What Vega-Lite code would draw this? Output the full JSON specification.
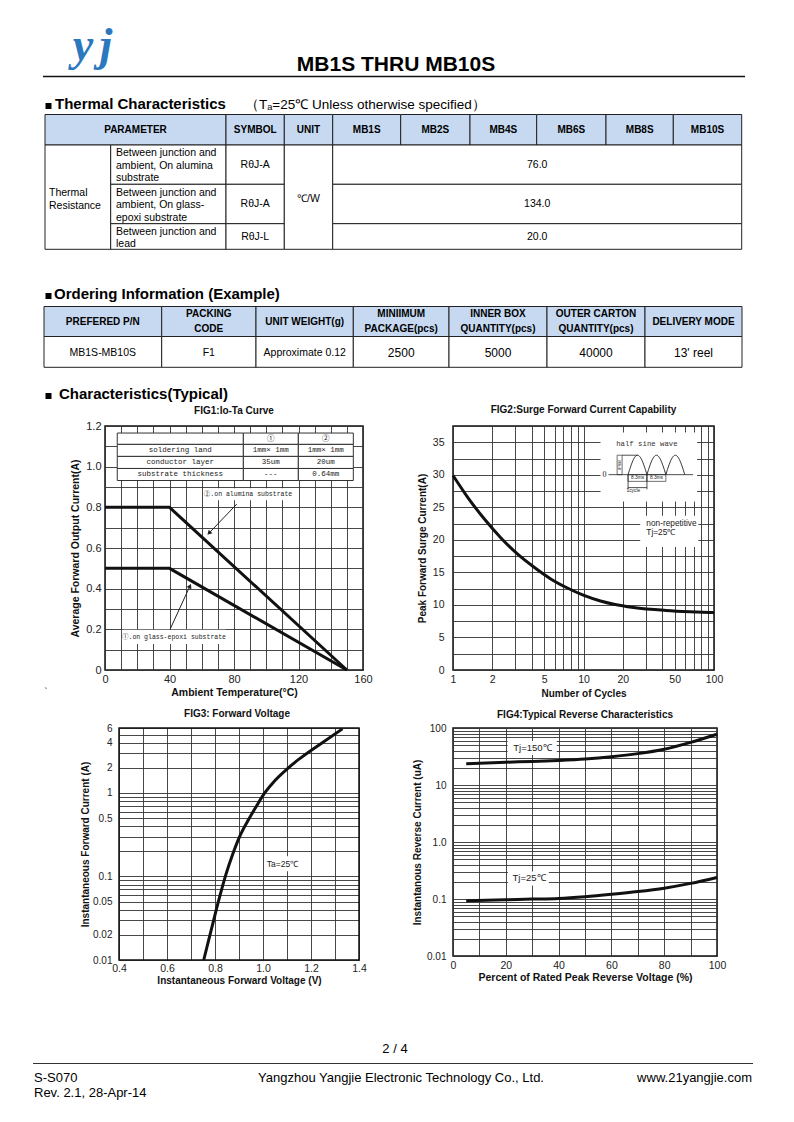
{
"$schema": "https://vega.github.io/schema/vega-lite/v6.json",
"padding": 0,
"background": "white",
"columns": 3,
"spacing": {"row": 58, "column": 90},
"align": "each",
"bounds": "flush",
"center": false,
"config": {
  "view": {"stroke": null},
  "font": "Liberation Sans",
  "text": {"font": "Liberation Sans", "color": "#111"},
  "axis": {"grid": true, "gridColor": "#333", "gridWidth": 0.9, "domain": false, "ticks": false, "labelColor": "#222", "labelFont": "Liberation Sans", "labelFontSize": 10.5, "titleFont": "Liberation Sans", "titleFontWeight": "bold", "titleFontSize": 10.5, "titleColor": "#111", "labelFlush": false, "labelOverlap": false, "labelBound": false},
  "title": {"font": "Liberation Sans", "fontWeight": "bold", "fontSize": 10, "color": "#111", "anchor": "middle", "baseline": "bottom"}
},
"datasets": {
  "hdr_logo": [{"x": 83, "y": 57, "t": "y"}, {"x": 106, "y": 57, "t": "j"}],
  "hdr_title": [{"x": 396, "y": 68, "t": "MB1S THRU MB10S"}],
  "hdr_rule": [{"x": 43, "x2": 745, "y": 73.5}],
  "hdr_heads": [{"x": 55, "y": 106, "t": "Thermal Characteristics"}, {"x": 54, "y": 296, "t": "Ordering Information (Example)"}, {"x": 59, "y": 396, "t": "Characteristics(Typical)"}],
  "hdr_squares": [{"x": 48.5, "y": 103}, {"x": 48.5, "y": 293}, {"x": 48.5, "y": 393}],
  "hdr_sub": [{"x": 245, "y": 106, "t": "（Tₐ=25℃ Unless otherwise specified）"}],
  "hdr_stray": [{"x": 46, "y": 690, "t": "`"}],
  "tbl_head_cells": [
    {"x": 45, "x2": 226, "y": 111.5, "y2": 142}, {"x": 226, "x2": 284.3, "y": 111.5, "y2": 142}, {"x": 284.3, "x2": 332.7, "y": 111.5, "y2": 142}, {"x": 332.7, "x2": 400.7, "y": 111.5, "y2": 142}, {"x": 400.7, "x2": 470, "y": 111.5, "y2": 142}, {"x": 470, "x2": 536.7, "y": 111.5, "y2": 142}, {"x": 536.7, "x2": 606, "y": 111.5, "y2": 142}, {"x": 606, "x2": 673.3, "y": 111.5, "y2": 142}, {"x": 673.3, "x2": 741.7, "y": 111.5, "y2": 142},
    {"x": 44, "x2": 161.7, "y": 303.5, "y2": 333.5}, {"x": 161.7, "x2": 256, "y": 303.5, "y2": 333.5}, {"x": 256, "x2": 353.3, "y": 303.5, "y2": 333.5}, {"x": 353.3, "x2": 449, "y": 303.5, "y2": 333.5}, {"x": 449, "x2": 547, "y": 303.5, "y2": 333.5}, {"x": 547, "x2": 645, "y": 303.5, "y2": 333.5}, {"x": 645, "x2": 742, "y": 303.5, "y2": 333.5}
  ],
  "tbl_body_cells": [
    {"x": 45, "x2": 110.7, "y": 142, "y2": 246.3}, {"x": 110.7, "x2": 226, "y": 142, "y2": 181.3}, {"x": 110.7, "x2": 226, "y": 181.3, "y2": 220.7}, {"x": 110.7, "x2": 226, "y": 220.7, "y2": 246.3}, {"x": 226, "x2": 284.3, "y": 142, "y2": 181.3}, {"x": 226, "x2": 284.3, "y": 181.3, "y2": 220.7}, {"x": 226, "x2": 284.3, "y": 220.7, "y2": 246.3}, {"x": 284.3, "x2": 332.7, "y": 142, "y2": 246.3}, {"x": 332.7, "x2": 741.7, "y": 142, "y2": 181.3}, {"x": 332.7, "x2": 741.7, "y": 181.3, "y2": 220.7}, {"x": 332.7, "x2": 741.7, "y": 220.7, "y2": 246.3},
    {"x": 44, "x2": 161.7, "y": 333.5, "y2": 364.3}, {"x": 161.7, "x2": 256, "y": 333.5, "y2": 364.3}, {"x": 256, "x2": 353.3, "y": 333.5, "y2": 364.3}, {"x": 353.3, "x2": 449, "y": 333.5, "y2": 364.3}, {"x": 449, "x2": 547, "y": 333.5, "y2": 364.3}, {"x": 547, "x2": 645, "y": 333.5, "y2": 364.3}, {"x": 645, "x2": 742, "y": 333.5, "y2": 364.3}
  ],
  "tbl_head_text": [
    {"x": 135.5, "y": 127, "t": "PARAMETER"}, {"x": 255.2, "y": 127, "t": "SYMBOL"}, {"x": 308.5, "y": 127, "t": "UNIT"}, {"x": 366.7, "y": 127, "t": "MB1S"}, {"x": 435.3, "y": 127, "t": "MB2S"}, {"x": 503.3, "y": 127, "t": "MB4S"}, {"x": 571.3, "y": 127, "t": "MB6S"}, {"x": 639.7, "y": 127, "t": "MB8S"}, {"x": 707.5, "y": 127, "t": "MB10S"},
    {"x": 102.8, "y": 319, "t": "PREFERED P/N"}, {"x": 208.8, "y": 310.5, "t": "PACKING\nCODE"}, {"x": 304.7, "y": 319, "t": "UNIT WEIGHT(g)"}, {"x": 401.2, "y": 310.5, "t": "MINIIMUM\nPACKAGE(pcs)"}, {"x": 498, "y": 310.5, "t": "INNER BOX\nQUANTITY(pcs)"}, {"x": 596, "y": 310.5, "t": "OUTER CARTON\nQUANTITY(pcs)"}, {"x": 693.5, "y": 319, "t": "DELIVERY MODE"}
  ],
  "tbl_body_text": [
    {"x": 255.2, "y": 162, "t": "RθJ-A"}, {"x": 255.2, "y": 201, "t": "RθJ-A"}, {"x": 255.2, "y": 234, "t": "RθJ-L"}, {"x": 308.5, "y": 195.5, "t": "℃/W"}, {"x": 537.2, "y": 162, "t": "76.0"}, {"x": 537.2, "y": 201, "t": "134.0"}, {"x": 537.2, "y": 234, "t": "20.0"},
    {"x": 102.8, "y": 349.5, "t": "MB1S-MB10S"}, {"x": 208.8, "y": 349.5, "t": "F1"}, {"x": 304.7, "y": 349.5, "t": "Approximate 0.12"}
  ],
  "tbl_left_text": [
    {"x": 49, "y": 190, "t": "Thermal\nResistance"}, {"x": 116, "y": 150.3, "t": "Between junction and\nambient, On alumina\nsubstrate"}, {"x": 116, "y": 189.7, "t": "Between junction and\nambient, On glass-\nepoxi substrate"}, {"x": 116, "y": 228.7, "t": "Between junction and\nlead"}
  ],
  "tbl_big_text": [{"x": 401.2, "y": 349.5, "t": "2500"}, {"x": 498, "y": 349.5, "t": "5000"}, {"x": 596, "y": 349.5, "t": "40000"}, {"x": 693.5, "y": 349.5, "t": "13' reel"}],
  "fig1_curves": [
    {"substrate": "alumina", "ta": 0, "io": 0.8}, {"substrate": "alumina", "ta": 40, "io": 0.8}, {"substrate": "alumina", "ta": 150, "io": 0},
    {"substrate": "glass-epoxi", "ta": 0, "io": 0.5}, {"substrate": "glass-epoxi", "ta": 40, "io": 0.5}, {"substrate": "glass-epoxi", "ta": 150, "io": 0}
  ],
  "fig1_table": [
    {"ta": 7.6, "ta2": 85.8, "io": 1.1654, "io2": 1.1096}, {"ta": 85.8, "ta2": 119.9, "io": 1.1654, "io2": 1.1096}, {"ta": 119.9, "ta2": 154, "io": 1.1654, "io2": 1.1096},
    {"ta": 7.6, "ta2": 85.8, "io": 1.1096, "io2": 1.0504}, {"ta": 85.8, "ta2": 119.9, "io": 1.1096, "io2": 1.0504}, {"ta": 119.9, "ta2": 154, "io": 1.1096, "io2": 1.0504},
    {"ta": 7.6, "ta2": 85.8, "io": 1.0504, "io2": 0.9911}, {"ta": 85.8, "ta2": 119.9, "io": 1.0504, "io2": 0.9911}, {"ta": 119.9, "ta2": 154, "io": 1.0504, "io2": 0.9911},
    {"ta": 7.6, "ta2": 85.8, "io": 0.9911, "io2": 0.9319}, {"ta": 85.8, "ta2": 119.9, "io": 0.9911, "io2": 0.9319}, {"ta": 119.9, "ta2": 154, "io": 0.9911, "io2": 0.9319}
  ],
  "fig1_table_text": [
    {"ta": 102.85, "io": 1.1375, "t": "①"}, {"ta": 136.95, "io": 1.1375, "t": "②"},
    {"ta": 46.7, "io": 1.08, "t": "soldering land"}, {"ta": 102.85, "io": 1.08, "t": "1mm× 1mm"}, {"ta": 136.95, "io": 1.08, "t": "1mm× 1mm"},
    {"ta": 46.7, "io": 1.0208, "t": "conductor layer"}, {"ta": 102.85, "io": 1.0208, "t": "35um"}, {"ta": 136.95, "io": 1.0208, "t": "20um"},
    {"ta": 46.7, "io": 0.9615, "t": "substrate thickness"}, {"ta": 102.85, "io": 0.9615, "t": "---"}, {"ta": 136.95, "io": 0.9615, "t": "0.64mm"}
  ],
  "fig1_boxes": [{"ta": 60.8, "ta2": 116.6, "io": 0.894, "io2": 0.835}, {"ta": 10.5, "ta2": 75, "io": 0.1975, "io2": 0.128}],
  "fig1_notes": [{"ta": 88.7, "io": 0.864, "t": "②.on alumina substrate"}, {"ta": 42.8, "io": 0.163, "t": "①.on glass-epoxi substrate"}],
  "fig1_arrows": [{"ta": 81.7, "io": 0.816, "ta2": 64.5, "io2": 0.673}, {"ta": 40.3, "io": 0.199, "ta2": 52.7, "io2": 0.413}],
  "fig1_head_a": [{"ta": 64.5, "io": 0.673}],
  "fig1_head_b": [{"ta": 52.7, "io": 0.413}],
  "fig2_curve": [
    {"cycles": 1, "amps": 29.9}, {"cycles": 1.3, "amps": 26.5}, {"cycles": 1.74, "amps": 23.2}, {"cycles": 2.33, "amps": 20.3}, {"cycles": 3.13, "amps": 17.8}, {"cycles": 4.31, "amps": 15.6}, {"cycles": 5.61, "amps": 14.0}, {"cycles": 7.53, "amps": 12.6}, {"cycles": 9.96, "amps": 11.5}, {"cycles": 13.5, "amps": 10.6}, {"cycles": 17.1, "amps": 10.1}, {"cycles": 24.2, "amps": 9.6}, {"cycles": 42.8, "amps": 9.15}, {"cycles": 65.5, "amps": 8.95}, {"cycles": 100, "amps": 8.82}
  ],
  "fig2_boxes": [{"cycles": 13.5, "cycles2": 74.1, "amps": 25.9, "amps2": 36.5}, {"cycles": 27.2, "cycles2": 75.8, "amps": 18.9, "amps2": 23.7}],
  "fig2_segs": [
    {"cycles": 15.54, "cycles2": 69.06, "amps": 30.02, "amps2": 30.02}, {"cycles": 19.76, "cycles2": 25.94, "amps": 33.01, "amps2": 33.01}, {"cycles": 21.95, "cycles2": 30.64, "amps": 28.03, "amps2": 28.03}, {"cycles": 21.95, "cycles2": 21.95, "amps": 30.02, "amps2": 27.77}, {"cycles": 30.64, "cycles2": 30.64, "amps": 30.02, "amps2": 27.77}
  ],
  "fig2_frames": [{"cycles": 18.1, "cycles2": 19.76, "amps": 30.02, "amps2": 33.01}, {"cycles": 21.95, "cycles2": 30.64, "amps": 28.99, "amps2": 30.02}, {"cycles": 30.64, "cycles2": 42.77, "amps": 28.99, "amps2": 30.02}],
  "fig2_humps": [
    {"hump": 1, "cycles": 21.95, "amps": 30.02}, {"hump": 1, "cycles": 23.21, "amps": 31.52}, {"hump": 1, "cycles": 24.53, "amps": 32.61}, {"hump": 1, "cycles": 25.94, "amps": 33.01}, {"hump": 1, "cycles": 27.42, "amps": 32.61}, {"hump": 1, "cycles": 28.98, "amps": 31.52}, {"hump": 1, "cycles": 30.64, "amps": 30.02},
    {"hump": 2, "cycles": 30.64, "amps": 30.02}, {"hump": 2, "cycles": 32.39, "amps": 31.52}, {"hump": 2, "cycles": 34.24, "amps": 32.61}, {"hump": 2, "cycles": 36.21, "amps": 33.01}, {"hump": 2, "cycles": 38.28, "amps": 32.61}, {"hump": 2, "cycles": 40.45, "amps": 31.52}, {"hump": 2, "cycles": 42.77, "amps": 30.02},
    {"hump": 3, "cycles": 42.77, "amps": 30.02}, {"hump": 3, "cycles": 45.21, "amps": 31.52}, {"hump": 3, "cycles": 47.8, "amps": 32.61}, {"hump": 3, "cycles": 50.55, "amps": 33.01}, {"hump": 3, "cycles": 53.43, "amps": 32.61}, {"hump": 3, "cycles": 56.47, "amps": 31.52}, {"hump": 3, "cycles": 59.7, "amps": 30.02}
  ],
  "fig2_mono": [{"cycles": 30.6, "amps": 34.75, "t": "half sine wave"}],
  "fig2_zero": [{"cycles": 14.48, "amps": 30.02, "t": "0"}],
  "fig2_ifsm": [{"cycles": 18.91, "amps": 31.51, "t": "IFSM"}],
  "fig2_tiny": [{"cycles": 25.94, "amps": 29.51, "t": "8.3ms"}, {"cycles": 36.21, "amps": 29.51, "t": "8.3ms"}, {"cycles": 24.1, "amps": 27.46, "t": "1cycle"}],
  "fig2_notes": [{"cycles": 30.3, "amps": 22.5, "t": "non-repetitive"}, {"cycles": 30.3, "amps": 21.1, "t": "Tj=25℃"}],
  "fig3_curve": [
    {"volts": 0.753, "amps": 0.01}, {"volts": 0.778, "amps": 0.0195}, {"volts": 0.8, "amps": 0.0347}, {"volts": 0.822, "amps": 0.061}, {"volts": 0.845, "amps": 0.1047}, {"volts": 0.873, "amps": 0.182}, {"volts": 0.903, "amps": 0.302}, {"volts": 0.9375, "amps": 0.468}, {"volts": 0.9725, "amps": 0.695}, {"volts": 1.007, "amps": 1.0}, {"volts": 1.05, "amps": 1.413}, {"volts": 1.1, "amps": 1.936}, {"volts": 1.15, "amps": 2.54}, {"volts": 1.2, "amps": 3.23}, {"volts": 1.25, "amps": 4.05}, {"volts": 1.331, "amps": 5.86}
  ],
  "fig3_frame": [{"volts": 0.4, "volts2": 1.4, "amps": 0.01, "amps2": 6}],
  "fig3_box": [{"volts": 1.007, "volts2": 1.16, "amps": 0.1158, "amps2": 0.175}],
  "fig3_label": [{"volts": 1.081, "amps": 0.1404, "t": "Ta=25℃"}],
  "fig4_curves": [
    {"series": "Tj=150℃", "pct": 5, "ua": 23.6}, {"series": "Tj=150℃", "pct": 20, "ua": 25.1}, {"series": "Tj=150℃", "pct": 30, "ua": 25.9}, {"series": "Tj=150℃", "pct": 40, "ua": 27.0}, {"series": "Tj=150℃", "pct": 50, "ua": 28.6}, {"series": "Tj=150℃", "pct": 60, "ua": 31.3}, {"series": "Tj=150℃", "pct": 70, "ua": 35.5}, {"series": "Tj=150℃", "pct": 80, "ua": 42.5}, {"series": "Tj=150℃", "pct": 90, "ua": 56.0}, {"series": "Tj=150℃", "pct": 100, "ua": 77.8},
    {"series": "Tj=25℃", "pct": 5, "ua": 0.093}, {"series": "Tj=25℃", "pct": 20, "ua": 0.097}, {"series": "Tj=25℃", "pct": 30, "ua": 0.0995}, {"series": "Tj=25℃", "pct": 40, "ua": 0.1025}, {"series": "Tj=25℃", "pct": 50, "ua": 0.11}, {"series": "Tj=25℃", "pct": 60, "ua": 0.121}, {"series": "Tj=25℃", "pct": 70, "ua": 0.135}, {"series": "Tj=25℃", "pct": 80, "ua": 0.155}, {"series": "Tj=25℃", "pct": 90, "ua": 0.188}, {"series": "Tj=25℃", "pct": 100, "ua": 0.239}
  ],
  "fig4_boxes": [{"pct": 20.7, "pct2": 39.3, "ua": 33.6, "ua2": 59.3}, {"pct": 20.8, "pct2": 36.3, "ua": 0.173, "ua2": 0.305}],
  "fig4_labels": [{"pct": 30.1, "ua": 44.7, "t": "Tj=150℃"}, {"pct": 28.8, "ua": 0.2296, "t": "Tj=25℃"}],
  "ftr_rule": [{"x": 33, "x2": 753, "y": 1060.5}],
  "ftr_left": [{"x": 34, "y": 1075, "t": "S-S070"}, {"x": 34, "y": 1090, "t": "Rev. 2.1, 28-Apr-14"}],
  "ftr_center": [{"x": 395, "y": 1046, "t": "2 / 4"}, {"x": 401, "y": 1075, "t": "Yangzhou Yangjie Electronic Technology Co., Ltd."}],
  "ftr_right": [{"x": 752, "y": 1075, "t": "www.21yangjie.com"}]
},
"concat": [
  {
    "width": 15, "height": 365,
    "encoding": {
      "x": {"field": "x", "type": "quantitative", "scale": {"domain": [0, 15], "nice": false, "zero": false}, "axis": null},
      "y": {"field": "y", "type": "quantitative", "scale": {"domain": [0, 365], "nice": false, "zero": false, "reverse": true}, "axis": null}
    },
    "layer": [
      {"data": {"name": "hdr_logo"}, "mark": {"type": "text", "font": "Liberation Serif", "fontStyle": "italic", "fontWeight": "bold", "fontSize": 46, "color": "#2B78BE", "baseline": "alphabetic"}, "encoding": {"text": {"field": "t"}}},
      {"data": {"name": "hdr_title"}, "mark": {"type": "text", "fontWeight": "bold", "fontSize": 21, "color": "#000", "baseline": "alphabetic"}, "encoding": {"text": {"field": "t"}}},
      {"data": {"name": "hdr_rule"}, "mark": {"type": "rule", "color": "#111", "strokeWidth": 1.5}, "encoding": {"x2": {"field": "x2"}}},
      {"data": {"name": "hdr_heads"}, "mark": {"type": "text", "fontWeight": "bold", "fontSize": 15, "color": "#000", "align": "left", "baseline": "alphabetic"}, "encoding": {"text": {"field": "t"}}},
      {"data": {"name": "hdr_squares"}, "mark": {"type": "point", "shape": "square", "filled": true, "size": 36, "color": "#000", "opacity": 1}, "encoding": {}},
      {"data": {"name": "hdr_sub"}, "mark": {"type": "text", "fontSize": 13.5, "color": "#000", "align": "left", "baseline": "alphabetic"}, "encoding": {"text": {"field": "t"}}},
      {"data": {"name": "hdr_stray"}, "mark": {"type": "text", "fontSize": 10, "color": "#333"}, "encoding": {"text": {"field": "t"}}},
      {"data": {"name": "tbl_head_cells"}, "mark": {"type": "rect", "fill": "#C6D9F1", "stroke": "#222", "strokeWidth": 1}, "encoding": {"x2": {"field": "x2"}, "y2": {"field": "y2"}}},
      {"data": {"name": "tbl_body_cells"}, "mark": {"type": "rect", "fill": "white", "stroke": "#222", "strokeWidth": 1}, "encoding": {"x2": {"field": "x2"}, "y2": {"field": "y2"}}},
      {"data": {"name": "tbl_head_text"}, "mark": {"type": "text", "fontWeight": "bold", "fontSize": 10, "color": "#000", "lineBreak": "\n", "lineHeight": 15}, "encoding": {"text": {"field": "t"}}},
      {"data": {"name": "tbl_body_text"}, "mark": {"type": "text", "fontSize": 10.5, "color": "#000"}, "encoding": {"text": {"field": "t"}}},
      {"data": {"name": "tbl_left_text"}, "mark": {"type": "text", "fontSize": 10.5, "color": "#000", "align": "left", "lineBreak": "\n", "lineHeight": 12.5}, "encoding": {"text": {"field": "t"}}},
      {"data": {"name": "tbl_big_text"}, "mark": {"type": "text", "fontSize": 12, "color": "#000"}, "encoding": {"text": {"field": "t"}}}
    ]
  },
  {"width": 1, "height": 1, "data": {"values": [{"v": 0}]}, "mark": {"type": "point", "opacity": 0}, "encoding": {}},
  {"width": 1, "height": 1, "data": {"values": [{"v": 0}]}, "mark": {"type": "point", "opacity": 0}, "encoding": {}},
  {"width": 15, "height": 1, "data": {"values": [{"v": 0}]}, "mark": {"type": "point", "opacity": 0}, "encoding": {}},
  {
    "width": 258, "height": 244,
    "view": {"stroke": "#111", "strokeWidth": 1.5},
    "title": {"text": "FIG1:Io-Ta Curve", "offset": 4.5},
    "encoding": {
      "x": {"field": "ta", "type": "quantitative", "scale": {"domain": [0, 160], "nice": false, "zero": false},
            "axis": {"title": "Ambient Temperature(°C)", "values": [0, 10, 20, 30, 40, 50, 60, 70, 80, 90, 100, 110, 120, 130, 140, 150, 160], "labelExpr": "datum.value % 40 === 0 ? datum.label : ''", "labelFontSize": 11, "labelPadding": 3, "titlePadding": 3}},
      "y": {"field": "io", "type": "quantitative", "scale": {"domain": [0, 1.2], "nice": false, "zero": false},
            "axis": {"title": "Average Forward Output Current(A)", "values": [0, 0.1, 0.2, 0.3, 0.4, 0.5, 0.6, 0.7, 0.8, 0.9, 1, 1.1, 1.2], "labelExpr": "round(datum.value * 10) % 2 === 0 ? (datum.value === 0 ? '0' : format(datum.value, '.1f')) : ''", "labelFontSize": 11, "labelPadding": 4, "titlePadding": 5}}
    },
    "layer": [
      {"data": {"name": "fig1_curves"}, "mark": {"type": "line", "color": "#111", "strokeWidth": 3}, "encoding": {"detail": {"field": "substrate"}}},
      {"data": {"name": "fig1_table"}, "mark": {"type": "rect", "fill": "white", "stroke": "#333", "strokeWidth": 1}, "encoding": {"x2": {"field": "ta2"}, "y2": {"field": "io2"}}},
      {"data": {"name": "fig1_table_text"}, "mark": {"type": "text", "font": "Liberation Mono, Noto Sans CJK SC", "fontSize": 7.5, "color": "#222"}, "encoding": {"text": {"field": "t"}}},
      {"data": {"name": "fig1_boxes"}, "mark": {"type": "rect", "fill": "white"}, "encoding": {"x2": {"field": "ta2"}, "y2": {"field": "io2"}}},
      {"data": {"name": "fig1_notes"}, "mark": {"type": "text", "font": "Liberation Mono, Noto Sans CJK SC", "fontSize": 6.5, "color": "#222"}, "encoding": {"text": {"field": "t"}}},
      {"data": {"name": "fig1_arrows"}, "mark": {"type": "rule", "color": "#222", "strokeWidth": 1}, "encoding": {"x2": {"field": "ta2"}, "y2": {"field": "io2"}}},
      {"data": {"name": "fig1_head_a"}, "mark": {"type": "point", "shape": "triangle-up", "filled": true, "size": 28, "angle": 224, "color": "#222", "opacity": 1}, "encoding": {}},
      {"data": {"name": "fig1_head_b"}, "mark": {"type": "point", "shape": "triangle-up", "filled": true, "size": 28, "angle": 25, "color": "#222", "opacity": 1}, "encoding": {}}
    ]
  },
  {
    "width": 261, "height": 244,
    "view": {"stroke": "#111", "strokeWidth": 1.5},
    "title": {"text": "FIG2:Surge Forward Current Capability", "offset": 6.5},
    "encoding": {
      "x": {"field": "cycles", "type": "quantitative", "scale": {"type": "log", "domain": [1, 100], "nice": false},
            "axis": {"title": "Number of Cycles", "values": [1, 2, 3, 4, 5, 6, 7, 8, 9, 10, 20, 30, 40, 50, 60, 70, 80, 90, 100], "labelExpr": "indexof([1, 2, 5, 10, 20, 50, 100], datum.value) >= 0 ? format(datum.value, '~g') : ''", "labelPadding": 4, "titlePadding": 4, "titleFontSize": 10}},
      "y": {"field": "amps", "type": "quantitative", "scale": {"domain": [0, 37.5], "nice": false, "zero": false},
            "axis": {"title": "Peak Forward Surge Current(A)", "values": [0, 2.5, 5, 7.5, 10, 12.5, 15, 17.5, 20, 22.5, 25, 27.5, 30, 32.5, 35, 37.5], "labelExpr": "datum.value % 5 === 0 ? format(datum.value, '~g') : ''", "labelPadding": 9, "titlePadding": 5, "titleFontSize": 10}}
    },
    "layer": [
      {"data": {"name": "fig2_curve"}, "mark": {"type": "line", "color": "#111", "strokeWidth": 3, "interpolate": "monotone"}, "encoding": {}},
      {"data": {"name": "fig2_boxes"}, "mark": {"type": "rect", "fill": "white"}, "encoding": {"x2": {"field": "cycles2"}, "y2": {"field": "amps2"}}},
      {"data": {"name": "fig2_frames"}, "mark": {"type": "rect", "fill": "white", "stroke": "#333", "strokeWidth": 0.7}, "encoding": {"x2": {"field": "cycles2"}, "y2": {"field": "amps2"}}},
      {"data": {"name": "fig2_segs"}, "mark": {"type": "rule", "color": "#222", "strokeWidth": 0.8}, "encoding": {"x2": {"field": "cycles2"}, "y2": {"field": "amps2"}}},
      {"data": {"name": "fig2_humps"}, "mark": {"type": "line", "color": "#222", "strokeWidth": 0.9, "interpolate": "monotone"}, "encoding": {"detail": {"field": "hump"}}},
      {"data": {"name": "fig2_mono"}, "mark": {"type": "text", "font": "Liberation Mono", "fontSize": 7.3, "color": "#333"}, "encoding": {"text": {"field": "t"}}},
      {"data": {"name": "fig2_zero"}, "mark": {"type": "text", "font": "Liberation Serif", "fontSize": 8, "color": "#222"}, "encoding": {"text": {"field": "t"}}},
      {"data": {"name": "fig2_ifsm"}, "mark": {"type": "text", "fontSize": 4, "angle": 270, "color": "#222"}, "encoding": {"text": {"field": "t"}}},
      {"data": {"name": "fig2_tiny"}, "mark": {"type": "text", "fontSize": 4.8, "color": "#222"}, "encoding": {"text": {"field": "t"}}},
      {"data": {"name": "fig2_notes"}, "mark": {"type": "text", "fontSize": 8.3, "color": "#222", "align": "left"}, "encoding": {"text": {"field": "t"}}}
    ]
  },
  {"width": 15, "height": 1, "data": {"values": [{"v": 0}]}, "mark": {"type": "point", "opacity": 0}, "encoding": {}},
  {
    "width": 254, "height": 232,
    "title": {"text": "FIG3: Forward Voltage", "offset": 3.5, "dx": 5},
    "encoding": {
      "x": {"field": "volts", "type": "quantitative", "scale": {"domain": [0.4, 1.4], "range": [14, 254], "nice": false, "zero": false},
            "axis": {"title": "Instantaneous Forward Voltage (V)", "values": [0.4, 0.5, 0.6, 0.7, 0.8, 0.9, 1, 1.1, 1.2, 1.3, 1.4], "labelExpr": "round(datum.value * 10) % 2 === 0 ? format(datum.value, '.1f') : ''", "labelPadding": 3, "titlePadding": 2, "titleFontSize": 10}},
      "y": {"field": "amps", "type": "quantitative", "scale": {"type": "log", "domain": [0.01, 6], "nice": false},
            "axis": {"title": "Instantaneous Forward Current (A)", "offset": -14, "values": [0.01, 0.02, 0.03, 0.04, 0.05, 0.06, 0.07, 0.08, 0.09, 0.1, 0.2, 0.3, 0.4, 0.5, 0.6, 0.7, 0.8, 0.9, 1, 2, 3, 4, 5, 6], "labelExpr": "indexof([0.01, 0.02, 0.05, 0.1, 0.5, 1, 2, 4, 6], datum.value) >= 0 ? format(datum.value, '~g') : ''", "labelFontSize": 10, "labelPadding": 7, "titlePadding": 2, "titleFontSize": 10}}
    },
    "layer": [
      {"data": {"name": "fig3_frame"}, "mark": {"type": "rect", "fill": null, "stroke": "#111", "strokeWidth": 1.5}, "encoding": {"x2": {"field": "volts2"}, "y2": {"field": "amps2"}}},
      {"data": {"name": "fig3_curve"}, "mark": {"type": "line", "color": "#111", "strokeWidth": 3, "interpolate": "monotone"}, "encoding": {}},
      {"data": {"name": "fig3_box"}, "mark": {"type": "rect", "fill": "white"}, "encoding": {"x2": {"field": "volts2"}, "y2": {"field": "amps2"}}},
      {"data": {"name": "fig3_label"}, "mark": {"type": "text", "fontSize": 8.5, "color": "#222"}, "encoding": {"text": {"field": "t"}}}
    ]
  },
  {
    "width": 264, "height": 228,
    "view": {"stroke": "#111", "strokeWidth": 1.5},
    "title": {"text": "FIG4:Typical Reverse Characteristics", "offset": 3},
    "encoding": {
      "x": {"field": "pct", "type": "quantitative", "scale": {"domain": [0, 100], "nice": false, "zero": false},
            "axis": {"title": "Percent of Rated Peak Reverse Voltage  (%)", "values": [0, 10, 20, 30, 40, 50, 60, 70, 80, 90, 100], "labelExpr": "datum.value % 20 === 0 ? datum.label : ''", "labelPadding": 4, "titlePadding": 2}},
      "y": {"field": "ua", "type": "quantitative", "scale": {"type": "log", "domain": [0.01, 100], "nice": false},
            "axis": {"title": "Instantanous Reverse Current (uA)", "values": [0.01, 0.02, 0.03, 0.04, 0.05, 0.06, 0.07, 0.08, 0.09, 0.1, 0.2, 0.3, 0.4, 0.5, 0.6, 0.7, 0.8, 0.9, 1, 2, 3, 4, 5, 6, 7, 8, 9, 10, 20, 30, 40, 50, 60, 70, 80, 90, 100], "labelExpr": "datum.value === 100 ? '100' : datum.value === 10 ? '10' : datum.value === 1 ? '1.0' : datum.value === 0.1 ? '0.1' : datum.value === 0.01 ? '0.01' : ''", "labelFontSize": 10, "labelPadding": 7, "titlePadding": 4, "titleFontSize": 10}}
    },
    "layer": [
      {"data": {"name": "fig4_curves"}, "mark": {"type": "line", "color": "#111", "strokeWidth": 3, "interpolate": "monotone"}, "encoding": {"detail": {"field": "series"}}},
      {"data": {"name": "fig4_boxes"}, "mark": {"type": "rect", "fill": "white"}, "encoding": {"x2": {"field": "pct2"}, "y2": {"field": "ua2"}}},
      {"data": {"name": "fig4_labels"}, "mark": {"type": "text", "fontSize": 9.5, "color": "#222"}, "encoding": {"text": {"field": "t"}}}
    ]
  },
  {
    "width": 15, "height": 107,
    "encoding": {
      "x": {"field": "x", "type": "quantitative", "scale": {"domain": [0, 15], "nice": false, "zero": false}, "axis": null},
      "y": {"field": "y", "type": "quantitative", "scale": {"domain": [1015, 1122], "nice": false, "zero": false, "reverse": true}, "axis": null}
    },
    "layer": [
      {"data": {"name": "ftr_rule"}, "mark": {"type": "rule", "color": "#333", "strokeWidth": 1}, "encoding": {"x2": {"field": "x2"}}},
      {"data": {"name": "ftr_left"}, "mark": {"type": "text", "fontSize": 13, "color": "#000", "align": "left"}, "encoding": {"text": {"field": "t"}}},
      {"data": {"name": "ftr_center"}, "mark": {"type": "text", "fontSize": 13, "color": "#000"}, "encoding": {"text": {"field": "t"}}},
      {"data": {"name": "ftr_right"}, "mark": {"type": "text", "fontSize": 13, "color": "#000", "align": "right"}, "encoding": {"text": {"field": "t"}}}
    ]
  },
  {"width": 1, "height": 1, "data": {"values": [{"v": 0}]}, "mark": {"type": "point", "opacity": 0}, "encoding": {}},
  {"width": 1, "height": 1, "data": {"values": [{"v": 0}]}, "mark": {"type": "point", "opacity": 0}, "encoding": {}}
]
}
